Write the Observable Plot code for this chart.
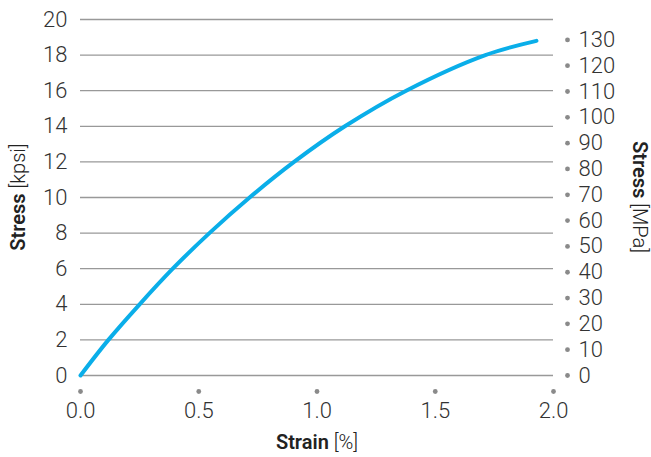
<!DOCTYPE html>
<html>
<head>
<meta charset="utf-8">
<script src="https://cdn.jsdelivr.net/npm/d3@7"></script>
<script src="https://cdn.jsdelivr.net/npm/@observablehq/plot@0.6"></script>
<style>
  html, body { margin: 0; padding: 0; background: #fff; }
  #chart svg { display: block; }
</style>
</head>
<body>
<div id="chart"></div>
<script>
// Stress–strain curve (strain %, stress kpsi)
const strain = [0, 0.118, 0.25, 0.39, 0.545, 0.715, 0.903, 1.118, 1.377, 1.712, 1.928];
const stressKpsi = [0, 2, 4, 6, 8, 10, 12, 14, 16, 18, 18.8];
const xTicks = [0, 0.5, 1.0, 1.5, 2.0];
const yTicks = [0, 2, 4, 6, 8, 10, 12, 14, 16, 18, 20];
const mpaTicks = [0, 10, 20, 30, 40, 50, 60, 70, 80, 90, 100, 110, 120, 130];
const MPA_PER_KPSI = 6.89476;

const curve = strain.map((s, i) => ({strain: s, stress: stressKpsi[i]}));

const FONT = "Roboto, 'Liberation Sans', sans-serif";
const TXT = "#333";
const DOT = "#8a8a8a";

const chart = Plot.plot({
  width: 651,
  height: 457,
  marginTop: 19,
  marginRight: 98,
  marginBottom: 82,
  marginLeft: 80,
  style: {fontFamily: FONT, color: TXT, background: "#fff"},
  x: {domain: [0, 2]},
  y: {domain: [0, 20]},
  marks: [
    Plot.ruleY(yTicks, {stroke: "#999", strokeWidth: 1.3}),
    Plot.axisY({ticks: yTicks, tickSize: 0, tickPadding: 13, fontSize: 22, fontWeight: 300, fill: TXT, label: null}),
    Plot.axisX({ticks: xTicks, tickSize: 0, tickPadding: 27, fontSize: 22, fontWeight: 300, fill: TXT, tickFormat: d3.format(".1f"), label: null}),
    Plot.dot(xTicks, {x: d => d, frameAnchor: "bottom", dy: 16, r: 2.4, fill: DOT, stroke: null}),
    Plot.dot(mpaTicks, {y: d => d / MPA_PER_KPSI, frameAnchor: "right", dx: 14, r: 2.4, fill: DOT, stroke: null}),
    Plot.text(mpaTicks, {y: d => d / MPA_PER_KPSI, text: d => String(d), frameAnchor: "right", dx: 25, textAnchor: "start", fontSize: 22, fontWeight: 300, fill: TXT}),
    Plot.line(curve, {x: "strain", y: "stress", curve: "catmull-rom", stroke: "#0aaee9", strokeWidth: 4})
  ]
});

document.getElementById("chart").appendChild(chart);

// Axis titles with bold + regular parts
const svg = d3.select(chart);
function title(x, y, rot, bold, rest) {
  const t = svg.append("text")
    .attr("transform", `translate(${x},${y}) rotate(${rot})`)
    .attr("text-anchor", "middle")
    .attr("font-family", FONT)
    .attr("font-size", 20)
    .attr("fill", "#222");
  t.append("tspan").attr("font-weight", 600).text(bold);
  t.append("tspan").attr("font-weight", 300).text(" " + rest);
}
title(317, 449, 0, "Strain", "[%]");
title(25, 197, -90, "Stress", "[kpsi]");
title(633, 197, 90, "Stress", "[MPa]");
</script>
</body>
</html>
